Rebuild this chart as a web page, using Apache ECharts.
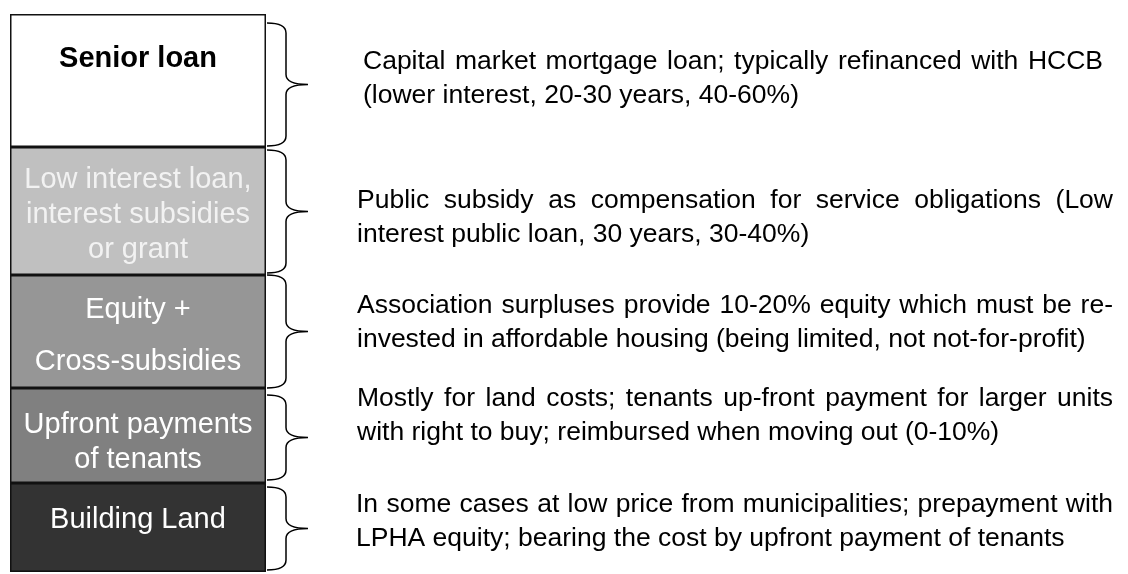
<!DOCTYPE html>
<html>
<head>
<meta charset="utf-8">
<script src="https://cdn.jsdelivr.net/npm/echarts@6/dist/echarts.min.js"></script>
<style>
  html, body { margin: 0; padding: 0; background: #fff; }
  #chart { width: 1128px; height: 574px; }
</style>
</head>
<body>
<div id="chart"></div>
<script>
// segments listed bottom -> top (stack order)
const segments = [
  "Building Land",
  "Upfront payments\nof tenants",
  "Equity +\nCross-subsidies",
  "Low interest loan,\ninterest subsidies\nor grant",
  "Senior loan"
];
// relative heights of the blocks as drawn
const shares = [89, 95, 113, 128, 133];
const descriptions = [
  ["In some cases at low price from municipalities; prepayment with",
   "LPHA equity; bearing the cost by upfront payment of tenants"],
  ["Mostly for land costs; tenants up-front payment for larger units",
   "with right to buy; reimbursed when moving out (0-10%)"],
  ["Association surpluses provide 10-20% equity which must be re-",
   "invested in affordable housing (being limited, not not-for-profit)"],
  ["Public subsidy as compensation for service obligations (Low",
   "interest public loan, 30 years, 30-40%)"],
  ["Capital market mortgage loan; typically refinanced with HCCB",
   "(lower interest, 20-30 years, 40-60%)"]
];

// styling
const fills = ["#333333", "#808080", "#969696", "#c0c0c0", "#ffffff"];
const labelColors = ["#ffffff", "#ffffff", "#ffffff", "#f2f2f2", "#000000"];
const labelLineHeights = [35, 35, 52, 35, 35];
const labelOffsets = [-8, 6.5, 4, 4, -21.5];
const braceInsets = [[4, 2], [7, 3], [0, 0], [3, 2], [9, 1]];
const descOffsets = [-5.5, -20, -8.5, 6.5, -1.5];
const descLeft = [90, 91, 91, 91, 97];
const descRight = 1113;
const descRightFirst = 1103;
const FONT = "Liberation Sans, Arial, sans-serif";
const DESC_SIZE = 26.5;
const DESC_LH = 34;

const ctx = document.createElement("canvas").getContext("2d");
ctx.font = DESC_SIZE + "px " + FONT;
const measure = (s) => ctx.measureText(s).width;

const total = shares.reduce((a, b) => a + b, 0);
const bases = [];
shares.reduce((acc, v, i) => { bases[i] = acc; return acc + v; }, 0);

const chart = echarts.init(document.getElementById("chart"));

const barSeries = segments.map((name, i) => ({
  name: name,
  type: "bar",
  stack: "funding",
  barWidth: "100%",
  data: [shares[i]],
  itemStyle: { color: fills[i], borderColor: "#111", borderWidth: 1.5 },
  label: {
    show: true,
    position: "inside",
    formatter: name,
    color: labelColors[i],
    fontFamily: FONT,
    fontSize: 29,
    fontWeight: i === 4 ? "bold" : "normal",
    lineHeight: labelLineHeights[i],
    offset: [0, labelOffsets[i]]
  }
}));

function braceItem(params, api) {
  const i = api.value(3);
  const band = api.size([1, 0])[0];
  const xr = api.coord([0, 0])[0] + band / 2;
  const yb = api.coord([0, api.value(1)])[1];
  const yt = api.coord([0, api.value(2)])[1];
  const top = yt + braceInsets[i][0];
  const bot = yb - braceInsets[i][1];
  const ym = (top + bot) / 2;
  const x0 = xr + 1, xm = xr + 20, x1 = xr + 42, r = 10;
  const path =
    "M" + x0 + "," + top +
    " Q" + xm + "," + top + " " + xm + "," + (top + r) +
    " L" + xm + "," + (ym - r) +
    " Q" + xm + "," + ym + " " + x1 + "," + ym +
    " Q" + xm + "," + ym + " " + xm + "," + (ym + r) +
    " L" + xm + "," + (bot - r) +
    " Q" + xm + "," + bot + " " + x0 + "," + bot;

  const children = [{
    type: "path",
    shape: { pathData: path },
    style: { fill: null, stroke: "#000", lineWidth: 1.5 }
  }];

  const lines = descriptions[i];
  const cy = (yt + yb) / 2 + descOffsets[i];
  const left = xr + descLeft[i];
  lines.forEach((line, k) => {
    const y = cy + (k - (lines.length - 1) / 2) * DESC_LH;
    const isLast = k === lines.length - 1;
    if (isLast) {
      children.push({
        type: "text",
        x: left, y: y,
        style: { text: line, fill: "#000", fontSize: DESC_SIZE, fontFamily: FONT, align: "left", verticalAlign: "middle" }
      });
      return;
    }
    // justified line: spread the words to the right edge
    const words = line.split(" ");
    const widths = words.map(measure);
    const right = i === 4 ? descRightFirst : descRight;
    const gap = (right - left - widths.reduce((a, b) => a + b, 0)) / (words.length - 1);
    let x = left;
    words.forEach((w, j) => {
      children.push({
        type: "text",
        x: x, y: y,
        style: { text: w, fill: "#000", fontSize: DESC_SIZE, fontFamily: FONT, align: "left", verticalAlign: "middle" }
      });
      x += widths[j] + gap;
    });
  });

  return { type: "group", children: children };
}

const option = {
  animation: false,
  grid: { left: 10, right: 862, top: 14, bottom: 2 },
  xAxis: { type: "category", data: ["funding"], show: false },
  yAxis: { type: "value", min: 0, max: total, show: false },
  series: barSeries.concat([{
    type: "custom",
    renderItem: braceItem,
    clip: false,
    silent: true,
    data: shares.map((v, i) => [0, bases[i], bases[i] + v, i])
  }])
};

chart.setOption(option);
</script>
</body>
</html>
